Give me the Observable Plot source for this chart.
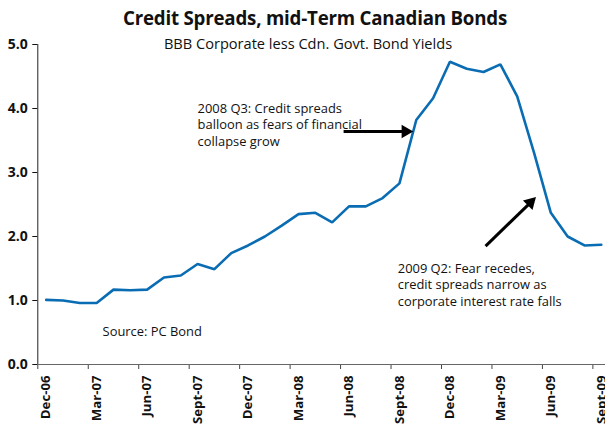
<!DOCTYPE html>
<html>
<head>
<meta charset="utf-8">
<script src="https://cdn.jsdelivr.net/npm/d3@7"></script>
<script src="https://cdn.jsdelivr.net/npm/@observablehq/plot@0.6"></script>
<style>
  html, body { margin: 0; padding: 0; background: #fff; }
  #wrap { position: relative; width: 605px; height: 426px; overflow: hidden; font-family: "Open Sans", sans-serif; }
  #title { position: absolute; left: 0; width: 630px; top: 5px; text-align: center; font-weight: bold; font-size: 18.7px; color: #111; letter-spacing: -0.2px; }
  #subtitle { position: absolute; left: 0; width: 616px; top: 33px; text-align: center; font-size: 14.6px; color: #111; }
  #chart { position: absolute; left: 0; top: 0; }
</style>
</head>
<body>
<div id="wrap">
  <div id="chart"></div>
  <div id="title">Credit Spreads, mid-Term Canadian Bonds</div>
  <div id="subtitle">BBB Corporate less Cdn. Govt. Bond Yields</div>
</div>
<script>
const months = ["Dec-06","Jan-07","Feb-07","Mar-07","Apr-07","May-07","Jun-07","Jul-07","Aug-07","Sept-07","Oct-07","Nov-07",
  "Dec-07","Jan-08","Feb-08","Mar-08","Apr-08","May-08","Jun-08","Jul-08","Aug-08","Sept-08","Oct-08","Nov-08",
  "Dec-08","Jan-09","Feb-09","Mar-09","Apr-09","May-09","Jun-09","Jul-09","Aug-09","Sept-09"];
const spreads = [1.01,1.00,0.96,0.96,1.17,1.16,1.17,1.36,1.39,1.57,1.49,1.74,
  1.86,2.00,2.17,2.35,2.37,2.22,2.47,2.47,2.60,2.83,3.82,4.16,
  4.73,4.62,4.57,4.69,4.19,3.31,2.37,2.00,1.86,1.87];
const yTicks = [0, 1, 2, 3, 4, 5];
const labelMonths = ["Dec-06","Mar-07","Jun-07","Sept-07","Dec-07","Mar-08","Jun-08","Sept-08","Dec-08","Mar-09","Jun-09","Sept-09"];

const notes = [
  {x: 9.0, y: 4.11, text: "2008 Q3: Credit spreads\nballoon as fears of financial\ncollapse grow"},
  {x: 20.9, y: 1.61, text: "2009 Q2: Fear recedes,\ncredit spreads narrow as\ncorporate interest rate falls"},
  {x: 3.35, y: 0.62, text: "Source: PC Bond"}
];
const arrows = [
  {x1: 17.68, y1: 3.64, x2: 21.36, y2: 3.64, angle: 90},
  {x1: 26.12, y1: 1.85, x2: 28.79, y2: 2.53, angle: 45}
];

const data = months.map((m, i) => ({i, month: m, value: spreads[i]}));
const labelIdx = labelMonths.map(m => months.indexOf(m));
const boundaries = labelIdx.map(i => i - 0.5);

const chart = Plot.plot({
  width: 605,
  height: 426,
  marginLeft: 37.3,
  marginRight: 0,
  marginTop: 44,
  marginBottom: 62,
  style: {fontFamily: "'Open Sans', sans-serif", color: "#111", background: "transparent"},
  x: {type: "linear", domain: [-0.5, 33.25]},
  y: {domain: [0, 5]},
  marks: [
    Plot.axisY({ticks: yTicks, tickFormat: d3.format(".1f"), tickSize: 5, tickPadding: 5, fontSize: 14, fontWeight: "bold", stroke: "#111", fill: "#111"}),
    Plot.axisX({ticks: boundaries, tickSize: 5, tickFormat: () => "", stroke: "#444"}),
    Plot.axisX({ticks: labelIdx, tickSize: 0, tickPadding: 11, tickRotate: -90, tickFormat: i => months[i], fontSize: 13.2, fontWeight: "bold", fill: "#111"}),
    Plot.ruleY([0], {stroke: "#666", strokeWidth: 1.2}),
    Plot.ruleX([-0.5], {stroke: "#222", strokeWidth: 1}),
    Plot.line(data, {x: "i", y: "value", stroke: "#0a6db3", strokeWidth: 2.6, strokeLinejoin: "miter"}),
    Plot.link(arrows, {x1: "x1", y1: "y1", x2: "x2", y2: "y2", stroke: "#000", strokeWidth: 3}),
    Plot.dot(arrows, {x: "x2", y: "y2", symbol: "triangle", r: 5, fill: "#000", stroke: "none", rotate: "angle"}),
    Plot.text(notes, {x: "x", y: "y", text: "text", textAnchor: "start", lineAnchor: "top", fontSize: 12.9, lineHeight: 1.27, fill: "#111"})
  ]
});
document.getElementById("chart").appendChild(chart);
</script>
</body>
</html>
